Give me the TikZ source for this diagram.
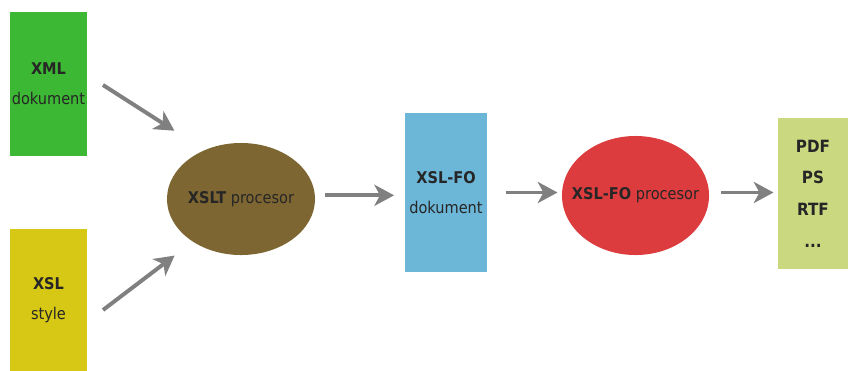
\documentclass[tikz,border=0pt]{standalone}
\usepackage{fontspec}
\setmainfont{DejaVu Sans Condensed}
\usetikzlibrary{shapes.geometric,arrows.meta}

\definecolor{xmlgreen}{RGB}{60,184,52}
\definecolor{xslyellow}{RGB}{214,200,20}
\definecolor{xsltbrown}{RGB}{125,102,50}
\definecolor{foblue}{RGB}{108,182,216}
\definecolor{fored}{RGB}{220,60,62}
\definecolor{outgreen}{RGB}{202,216,128}
\definecolor{arrowgray}{RGB}{128,128,128}

\tikzset{
  docbox/.style={rectangle, inner sep=0pt, align=center, text=black!85},
  procell/.style={ellipse, inner sep=0pt},
  proclabel/.style={text=black!85},
  flow/.style={draw=arrowgray, line width=2.8pt, shorten >=3pt,
    -{Stealth[length=14pt, width=15pt, inset=4pt]}}
}

\begin{document}
\begin{tikzpicture}[x=0.025cm, y=-0.025cm,
    every node/.style={font=\fontsize{11.5}{21.5}\selectfont}]
    \useasboundingbox (0,0) rectangle (848,370);
    % source documents
    \node[docbox, fill=xmlgreen, minimum width=1.925cm, minimum height=3.6cm]
        (xml) at (48.5,84) {\textbf{XML}\\dokument};
    \node[docbox, fill=xslyellow, minimum width=1.925cm, minimum height=3.55cm]
        (xsl) at (48.5,300) {\textbf{XSL}\\style};
    % processors and intermediate
    \node[procell, fill=xsltbrown, minimum width=3.7cm, minimum height=2.8cm]
        (xslt) at (241,199) {};
    \node[proclabel] at (xslt.center) {\textbf{XSLT} procesor};
    \node[docbox, fill=foblue, minimum width=2.05cm, minimum height=3.975cm]
        (fodoc) at (446,192.5) {\textbf{XSL-FO}\\dokument};
    \node[procell, fill=fored, minimum width=3.675cm, minimum height=2.975cm]
        (foproc) at (635.5,195.5) {};
    \node[proclabel] at (foproc.center) {\textbf{XSL-FO} procesor};
    \node[docbox, fill=outgreen, minimum width=1.75cm, minimum height=3.775cm,
        font=\fontsize{12}{22.5}\selectfont\bfseries]
        (out) at (813,193.5) {PDF\\PS\\RTF\\...};
    % connectors
    \coordinate (xmlend) at (103,85);
    \coordinate (xslend) at (103,310);
    \coordinate (xsltin1) at (178,133);
    \coordinate (xsltin2) at (178,253);
    \draw[flow] (xmlend) -- (xsltin1);
    \draw[flow] (xslend) -- (xsltin2);
    \draw[flow] (fodoc.west -| xslt.east) ++(7pt,-2pt) -- ++(52pt,0);
    \draw[flow] (fodoc.east) ++(13pt,0) -- (foproc.west |- fodoc.east);
    \draw[flow] (foproc.east |- fodoc.east) ++(8pt,0) -- (out.west |- fodoc.east);
\end{tikzpicture}
\end{document}
